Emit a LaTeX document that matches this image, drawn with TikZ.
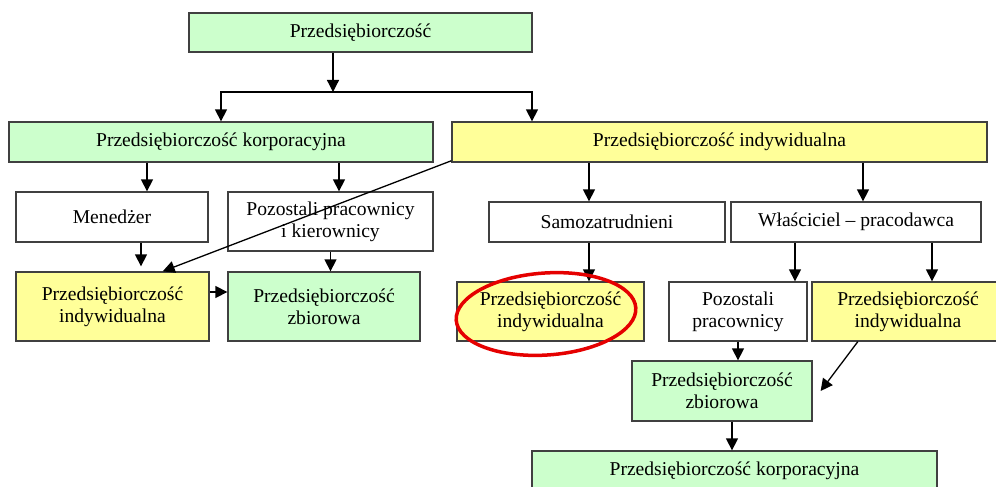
\documentclass[tikz,border=0pt]{standalone}
\usepackage{fontspec}
\setmainfont{Liberation Serif}
\usetikzlibrary{arrows.meta}
\definecolor{lgreen}{HTML}{CCFFCC}
\definecolor{lyellow}{HTML}{FFFF99}

\begin{document}
\begin{tikzpicture}[
  x=1pt, y=-1pt,
  every node/.style={font=\fontsize{19.6}{22}\selectfont, align=center, inner sep=0pt},
  box/.style={draw=black!75, line width=1.3pt},
  gbox/.style={box, fill=lgreen},
  ybox/.style={box, fill=lyellow},
  wbox/.style={box, fill=white},
  arr/.style={line width=1.3pt, -{Triangle[length=12pt,width=12pt]}}
]
\path[use as bounding box, clip] (0,0) rectangle (996,487);
% top level:
\node[gbox, minimum width=343pt, minimum height=39pt] (top) at (360.5,32.5) {Przedsiębiorczość};
\node[gbox, minimum width=424pt, minimum height=40pt] (korp) at (221,142) {Przedsiębiorczość korporacyjna};
\node[ybox, minimum width=535pt, minimum height=40pt] (indyw) at (719.5,142) {Przedsiębiorczość indywidualna};
% second level:
\node[wbox, minimum width=192pt, minimum height=50pt] (mened) at (112,217) {Menedżer};
\node[wbox, minimum width=205pt, minimum height=59pt] (pozkier) at (330.5,221.5) {Pozostali pracownicy\\i kierownicy};
\node[wbox, minimum width=236pt, minimum height=40pt] (samoz) at (607,222) {Samozatrudnieni};
\node[wbox, minimum width=250pt, minimum height=40pt] (wlasc) at (856,222) {Właściciel – pracodawca};
% third level:
\node[ybox, minimum width=193pt, minimum height=69pt] (indyw-l) at (112.5,306.5) {Przedsiębiorczość\\indywidualna};
\node[gbox, minimum width=192pt, minimum height=69pt] (zbior-l) at (324,306.5) {Przedsiębiorczość\\zbiorowa};
\node[ybox, minimum width=187pt, minimum height=59pt] (indyw-s) at (550.5,311.5) {Przedsiębiorczość\\indywidualna};
\node[wbox, minimum width=138pt, minimum height=59pt] (pozprac) at (738,311.5) {Pozostali\\pracownicy};
\node[ybox, minimum width=192pt, minimum height=59pt] (indyw-w) at (908,311.5) {Przedsiębiorczość\\indywidualna};
\node[gbox, minimum width=180pt, minimum height=60pt] (zbior-w) at (722,391) {Przedsiębiorczość\\zbiorowa};
\node[gbox, minimum width=405pt, minimum height=40pt] (korp-w) at (734.5,471) {Przedsiębiorczość korporacyjna};

% arrow columns:
\coordinate (split) at (333,92);
\coordinate (k1) at (147,0);
\coordinate (k2) at (339,0);
\coordinate (k3) at (141,0);
\coordinate (i0) at (532,0);
\coordinate (i1) at (589,0);
\coordinate (i2) at (863,0);
\coordinate (w1) at (795,0);
\coordinate (w2) at (932,0);
\coordinate (z1) at (732,0);

\draw[arr] (top.south -| split) -- (split);
\draw[arr] (split) -| (korp.north);
\draw[arr] (split) -| (indyw.north -| i0);
\draw[arr] (korp.south -| k1) -- (mened.north -| k1);
\draw[arr] (korp.south -| k2) -- (pozkier.north -| k2);
\draw[arr] (mened.south -| k3) -- ([yshift=5pt]indyw-l.north -| k3);
\draw[arr] (pozkier.south) -- (pozkier.south |- zbior-l.north);
\draw[arr] (indyw.184.6) -- (indyw-l.35);
\draw[arr] ([yshift=14.5pt]indyw-l.east) -- ([yshift=14.5pt]zbior-l.west);
\draw[arr] (indyw.south -| i1) -- (samoz.north -| i1);
\draw[arr] (indyw.south -| i2) -- (wlasc.north -| i2);
\draw[arr] (samoz.south -| i1) -- (indyw-s.north -| i1);
\draw[arr] (wlasc.south -| w1) -- (pozprac.north -| w1);
\draw[arr] (wlasc.south -| w2) -- (indyw-w.north -| w2);
\draw[arr] (pozprac.south) -- (pozprac.south |- zbior-w.north);
\draw[arr] (indyw-w.211) -- ([xshift=8pt]zbior-w.east);
\draw[arr] (zbior-w.south -| z1) -- (korp-w.north -| z1);

% red mark:
\draw[red!90!black, line width=3.5pt] (546,314) ellipse [x radius=90, y radius=41, rotate=4];
\end{tikzpicture}
\end{document}
